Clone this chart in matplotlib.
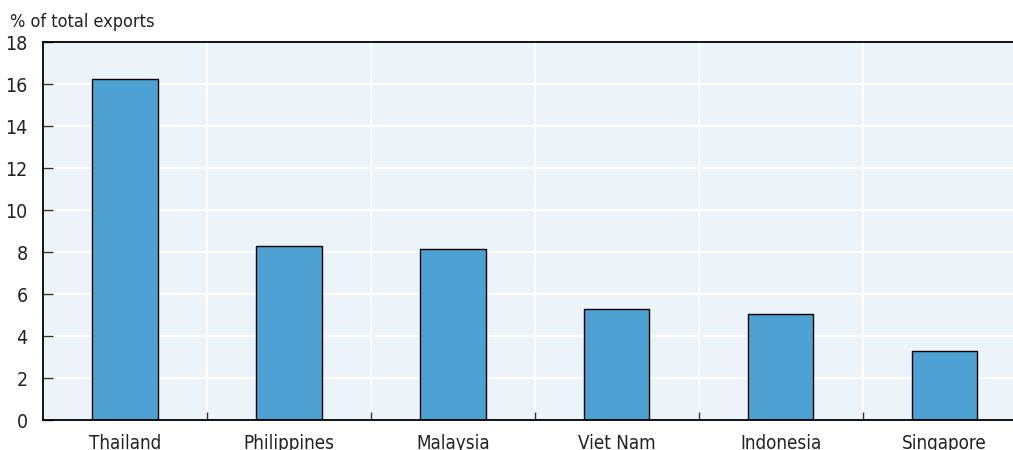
import matplotlib
matplotlib.use("Agg")
import matplotlib.pyplot as plt
from matplotlib import font_manager

countries = ["Thailand", "Philippines", "Malaysia", "Viet Nam", "Indonesia", "Singapore"]
share_of_exports = [16.25, 8.3, 8.15, 5.3, 5.05, 3.3]
y_ticks = [0, 2, 4, 6, 8, 10, 12, 14, 16, 18]

available = {f.name for f in font_manager.fontManager.ttflist}
family = "Liberation Sans Narrow" if "Liberation Sans Narrow" in available else "DejaVu Sans"
plt.rcParams["font.family"] = [family, "DejaVu Sans"]
plt.rcParams["font.stretch"] = "condensed"

fig = plt.figure(figsize=(10.13, 4.5), dpi=100)
ax = fig.add_axes([43 / 1013, 30 / 450, 983.4 / 1013, 378 / 450])
ax.set_facecolor("#ECF4FA")

x = range(len(countries))
ax.bar(x, share_of_exports, width=0.4, color="#4EA1D3", edgecolor="black",
       linewidth=1.0, zorder=3)

ax.set_xlim(-0.5, len(countries) - 0.5)
ax.set_ylim(0, 18)
ax.set_yticks(y_ticks)
ax.set_yticklabels([str(t) for t in y_ticks], fontsize=14, color="#222222")
ax.set_xticks(list(x))
ax.set_xticklabels(countries, fontsize=13.5, color="#222222")

# category separators: white grid lines and small ticks on the baseline
bounds = [i + 0.5 for i in range(len(countries) - 1)]
ax.set_xticks(bounds, minor=True)
ax.grid(axis="x", which="minor", color="white", linewidth=1.5, zorder=1)
ax.grid(axis="y", which="major", color="white", linewidth=1.5, zorder=1)
ax.tick_params(axis="x", which="major", length=0, pad=10)
ax.tick_params(axis="x", which="minor", direction="in", length=6, width=1, color="#333333")
ax.tick_params(axis="y", direction="in", length=7, width=1, pad=11, color="#333333")
for lab in ax.get_yticklabels():
    lab.set_horizontalalignment("right")

for side in ["left", "top", "bottom"]:
    ax.spines[side].set_color("black")
    ax.spines[side].set_linewidth(1.3)
ax.spines["right"].set_visible(False)
ax.spines["bottom"].set_zorder(4)

fig.text(10 / 1013, 1 - 22 / 450, "% of total exports", fontsize=13,
         ha="left", va="center", color="#222222")

fig.savefig("out.png", dpi=100)
